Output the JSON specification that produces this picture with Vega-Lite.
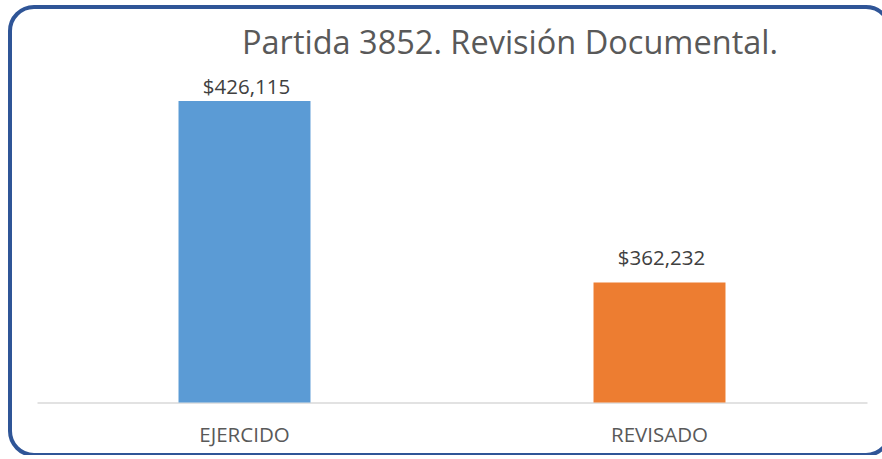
{
  "$schema": "https://vega.github.io/schema/vega-lite/v6.json",
  "width": 880,
  "height": 448,
  "autosize": "none",
  "padding": {"left": 10, "top": 7, "right": 0, "bottom": 0},
  "background": "white",
  "config": {
    "view": {"stroke": "#2F5597", "strokeWidth": 4, "cornerRadius": 24, "fill": "white"},
    "font": "Open Sans"
  },
  "title": {
    "text": "Partida 3852. Revisión Documental.",
    "fontSize": 32.5,
    "font": "Open Sans",
    "fontWeight": "normal",
    "color": "#595959",
    "anchor": "middle",
    "dx": 60,
    "offset": -79,
    "baseline": "alphabetic"
  },
  "data": {
    "values": [
      {"partida": "EJERCIDO", "monto": 426115},
      {"partida": "REVISADO", "monto": 362232}
    ]
  },
  "encoding": {
    "x": {
      "field": "partida",
      "type": "nominal",
      "sort": null,
      "scale": {"range": [27, 857], "paddingInner": 0.682, "paddingOuter": 0.341},
      "axis": {
        "title": null,
        "orient": "bottom",
        "offset": -52.5,
        "domainColor": "#D9D9D9",
        "domainWidth": 1.5,
        "ticks": false,
        "labelAngle": 0,
        "labelFont": "Open Sans",
        "labelFontSize": 20.5,
        "labelColor": "#595959",
        "labelPadding": 23,
        "grid": false
      }
    },
    "y": {
      "field": "monto",
      "type": "quantitative",
      "scale": {"domain": [301522, 459200], "zero": false, "nice": false},
      "axis": null
    }
  },
  "layer": [
    {
      "mark": {"type": "bar"},
      "encoding": {
        "y2": {"datum": 320000},
        "color": {
          "field": "partida",
          "type": "nominal",
          "scale": {"domain": ["EJERCIDO", "REVISADO"], "range": ["#5B9BD5", "#ED7D31"]},
          "legend": null
        }
      }
    },
    {
      "transform": [{"filter": "datum.partida === 'EJERCIDO'"}],
      "mark": {"type": "text", "baseline": "alphabetic", "dy": -7, "dx": 2, "fontSize": 20.5, "font": "Open Sans", "color": "#404040"},
      "encoding": {"text": {"field": "monto", "type": "quantitative", "format": "$,.0f"}}
    },
    {
      "transform": [{"filter": "datum.partida === 'REVISADO'"}],
      "mark": {"type": "text", "baseline": "alphabetic", "dy": -18, "dx": 2, "fontSize": 20.5, "font": "Open Sans", "color": "#404040"},
      "encoding": {"text": {"field": "monto", "type": "quantitative", "format": "$,.0f"}}
    }
  ]
}
